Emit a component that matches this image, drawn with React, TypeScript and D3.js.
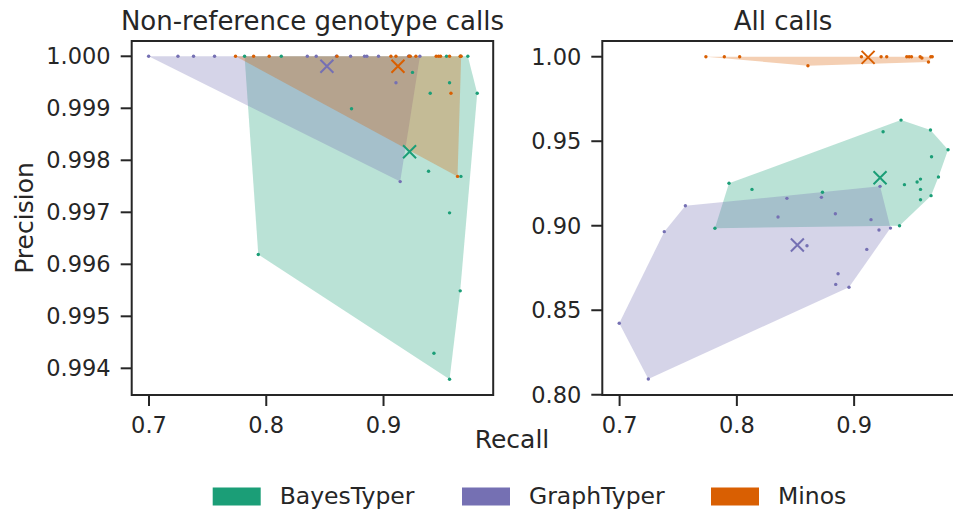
import React from "react";
import * as d3 from "d3";

const WIDTH = 953;
const HEIGHT = 514;
const FONT = "DejaVu Sans";
const INK = "#262626";

const TOOLS = ["BayesTyper", "GraphTyper", "Minos"];
const COLORS = ["#1b9e77", "#7570b3", "#d95f02"];

// non-reference genotype calls: [recall, precision]
const bayesNonRef = [
  [0.7815, 1.0], [0.8128, 1.0], [0.9537, 1.0], [0.9719, 1.0], [0.9656, 1.0],
  [0.9247, 0.99969], [0.9563, 0.99949], [0.9398, 0.99929], [0.9799, 0.99929],
  [0.8727, 0.99899], [0.9384, 0.99779], [0.966, 0.99769], [0.9563, 0.99699],
  [0.7932, 0.99619], [0.9654, 0.99549], [0.943, 0.99429], [0.9563, 0.99379],
];
const graphNonRef = [
  [0.6997, 1.0], [0.7247, 1.0], [0.738, 1.0], [0.7559, 1.0], [0.835, 1.0],
  [0.8426, 1.0], [0.8598, 1.0], [0.8719, 1.0], [0.8838, 1.0], [0.8858, 1.0],
  [0.8957, 1.0], [0.9213, 1.0], [0.9221, 1.0], [0.931, 1.0],
  [0.9106, 0.99949], [0.9142, 0.99759],
];
const minosNonRef = [
  [0.7738, 1.0], [0.7892, 1.0], [0.8025, 1.0], [0.8603, 1.0], [0.9063, 1.0],
  [0.9106, 1.0], [0.9217, 1.0], [0.9228, 1.0], [0.9276, 1.0], [0.9449, 1.0],
  [0.9469, 1.0], [0.9486, 1.0], [0.9563, 1.0], [0.9654, 1.0], [0.9662, 1.0],
  [0.9575, 0.99929], [0.9631, 0.99769],
];
const nonRefMeans = [
  [0.9222, 0.998165],
  [0.8517, 0.99981],
  [0.9123, 0.99981],
];

// all calls: [recall, precision]
const bayesAll = [
  [0.94, 0.9625], [0.9247, 0.9556], [0.9651, 0.9566], [0.9801, 0.945],
  [0.966, 0.9408], [0.9429, 0.9243], [0.9537, 0.9259], [0.9566, 0.9276],
  [0.9566, 0.9215], [0.9719, 0.9288], [0.9566, 0.9154], [0.9656, 0.9178],
  [0.9387, 0.9], [0.7933, 0.9251], [0.8129, 0.9215], [0.873, 0.9198],
  [0.7813, 0.8985],
];
const graphAll = [
  [0.7561, 0.9118], [0.7381, 0.8965], [0.8427, 0.9162], [0.8721, 0.9168],
  [0.8351, 0.9052], [0.884, 0.9071], [0.9144, 0.9036], [0.9221, 0.9233],
  [0.9212, 0.8975], [0.931, 0.8986], [0.8598, 0.8882], [0.9108, 0.886],
  [0.8863, 0.8716], [0.8843, 0.8653], [0.8956, 0.8636], [0.6997, 0.8423],
  [0.7245, 0.8093],
];
const minosAll = [
  [0.7736, 1.0], [0.7893, 1.0], [0.8024, 1.0], [0.8606, 0.9947], [0.9062, 1.0],
  [0.923, 1.0], [0.9278, 1.0], [0.9449, 1.0], [0.9469, 1.0], [0.9489, 1.0],
  [0.9563, 1.0], [0.9578, 0.9992], [0.9634, 0.9969], [0.9654, 1.0], [0.9666, 1.0],
];
const allMeans = [
  [0.9221, 0.9284],
  [0.8516, 0.8886],
  [0.9119, 0.9996],
];

const X_TICKS = [0.7, 0.8, 0.9];
const NONREF_Y_TICKS = [0.994, 0.995, 0.996, 0.997, 0.998, 0.999, 1.0];
const ALL_Y_TICKS = [0.8, 0.85, 0.9, 0.95, 1.0];

const PANEL_TOP = 41;
const PANEL_BOTTOM = 395;
const PANEL_W = 361.5;
const TICK_FS = 22.5;
const LABEL_FS = 25;

type Pt = [number, number];

const Panel = ({ left, title, series, means, yDomain, yTicks, yFmt }: any) => {
  const x = d3.scaleLinear().domain([0.68525, 0.99352]).range([left, left + PANEL_W]);
  const y = d3.scaleLinear().domain(yDomain).range([PANEL_BOTTOM, PANEL_TOP]);
  const fmt = d3.format(yFmt);
  const clipId = `clip-${Math.round(left)}`;

  return (
    <g>
      <defs>
        <clipPath id={clipId}>
          <rect x={left} y={PANEL_TOP} width={PANEL_W} height={PANEL_BOTTOM - PANEL_TOP} />
        </clipPath>
      </defs>
      <g clipPath={`url(#${clipId})`}>
        {/* hulls */}
        {series.map((pts: Pt[], i: number) => {
          const hull = d3.polygonHull(pts.map((d) => [x(d[0]), y(d[1])] as [number, number]));
          return hull ? (
            <path key={"h" + i} d={"M" + hull.join("L") + "Z"} fill={COLORS[i]} fillOpacity={0.3} />
          ) : null;
        })}
        {/* points */}
        {series.map((pts: Pt[], i: number) =>
          pts.map((d, j) => (
            <circle key={`p${i}-${j}`} cx={x(d[0])} cy={y(d[1])} r={1.7} fill={COLORS[i]} />
          ))
        )}
        {/* means */}
        {means.map((d: Pt, i: number) => {
          const cx = x(d[0]);
          const cy = y(d[1]);
          const s = 6.5;
          return (
            <path
              key={"m" + i}
              d={`M${cx - s},${cy - s}L${cx + s},${cy + s}M${cx - s},${cy + s}L${cx + s},${cy - s}`}
              stroke={COLORS[i]}
              strokeWidth={2}
            />
          );
        })}
      </g>
      {/* frame */}
      <rect
        x={left}
        y={PANEL_TOP}
        width={PANEL_W}
        height={PANEL_BOTTOM - PANEL_TOP}
        fill="none"
        stroke={INK}
        strokeWidth={2}
      />
      {/* x ticks */}
      {X_TICKS.map((t) => (
        <g key={"x" + t}>
          <line x1={x(t)} x2={x(t)} y1={PANEL_BOTTOM} y2={PANEL_BOTTOM + 11} stroke={INK} strokeWidth={2} />
          <text x={x(t)} y={433} textAnchor="middle" fontSize={TICK_FS} fill={INK} fontFamily={FONT}>
            {d3.format(".1f")(t)}
          </text>
        </g>
      ))}
      {/* y ticks */}
      {yTicks.map((t: number) => (
        <g key={"y" + t}>
          <line x1={left - 11} x2={left} y1={y(t)} y2={y(t)} stroke={INK} strokeWidth={2} />
          <text
            x={left - 21}
            y={y(t)}
            dy="0.36em"
            textAnchor="end"
            fontSize={TICK_FS}
            fill={INK}
            fontFamily={FONT}
          >
            {fmt(t)}
          </text>
        </g>
      ))}
      <text
        x={left + PANEL_W / 2}
        y={30}
        textAnchor="middle"
        fontSize={26}
        fill={INK}
        fontFamily={FONT}
      >
        {title}
      </text>
    </g>
  );
};

export default function App() {
  const legendX = [212.7, 462, 711];
  return (
    <svg
      width={WIDTH}
      height={HEIGHT}
      style={{ position: "absolute", left: 0, top: 0, background: "#fff" }}
    >
      <rect width={WIDTH} height={HEIGHT} fill="#fff" />
      <Panel
        left={131.7}
        title="Non-reference genotype calls"
        series={[bayesNonRef, graphNonRef, minosNonRef]}
        means={nonRefMeans}
        yDomain={[0.993487, 1.000294]}
        yTicks={NONREF_Y_TICKS}
        yFmt=".3f"
      />
      <Panel
        left={602.3}
        title="All calls"
        series={[bayesAll, graphAll, minosAll]}
        means={allMeans}
        yDomain={[0.79985, 1.0093]}
        yTicks={ALL_Y_TICKS}
        yFmt=".2f"
      />
      <text
        transform="translate(33,218) rotate(-90)"
        textAnchor="middle"
        fontSize={LABEL_FS}
        fill={INK}
        fontFamily={FONT}
      >
        Precision
      </text>
      <text x={512} y={448} textAnchor="middle" fontSize={LABEL_FS} fill={INK} fontFamily={FONT}>
        Recall
      </text>
      {TOOLS.map((name, i) => (
        <g key={name}>
          <rect x={legendX[i]} y={487.5} width={48} height={18} fill={COLORS[i]} />
          <text x={legendX[i] + 67} y={504} fontSize={23.5} fill={INK} fontFamily={FONT}>
            {name}
          </text>
        </g>
      ))}
    </svg>
  );
}
